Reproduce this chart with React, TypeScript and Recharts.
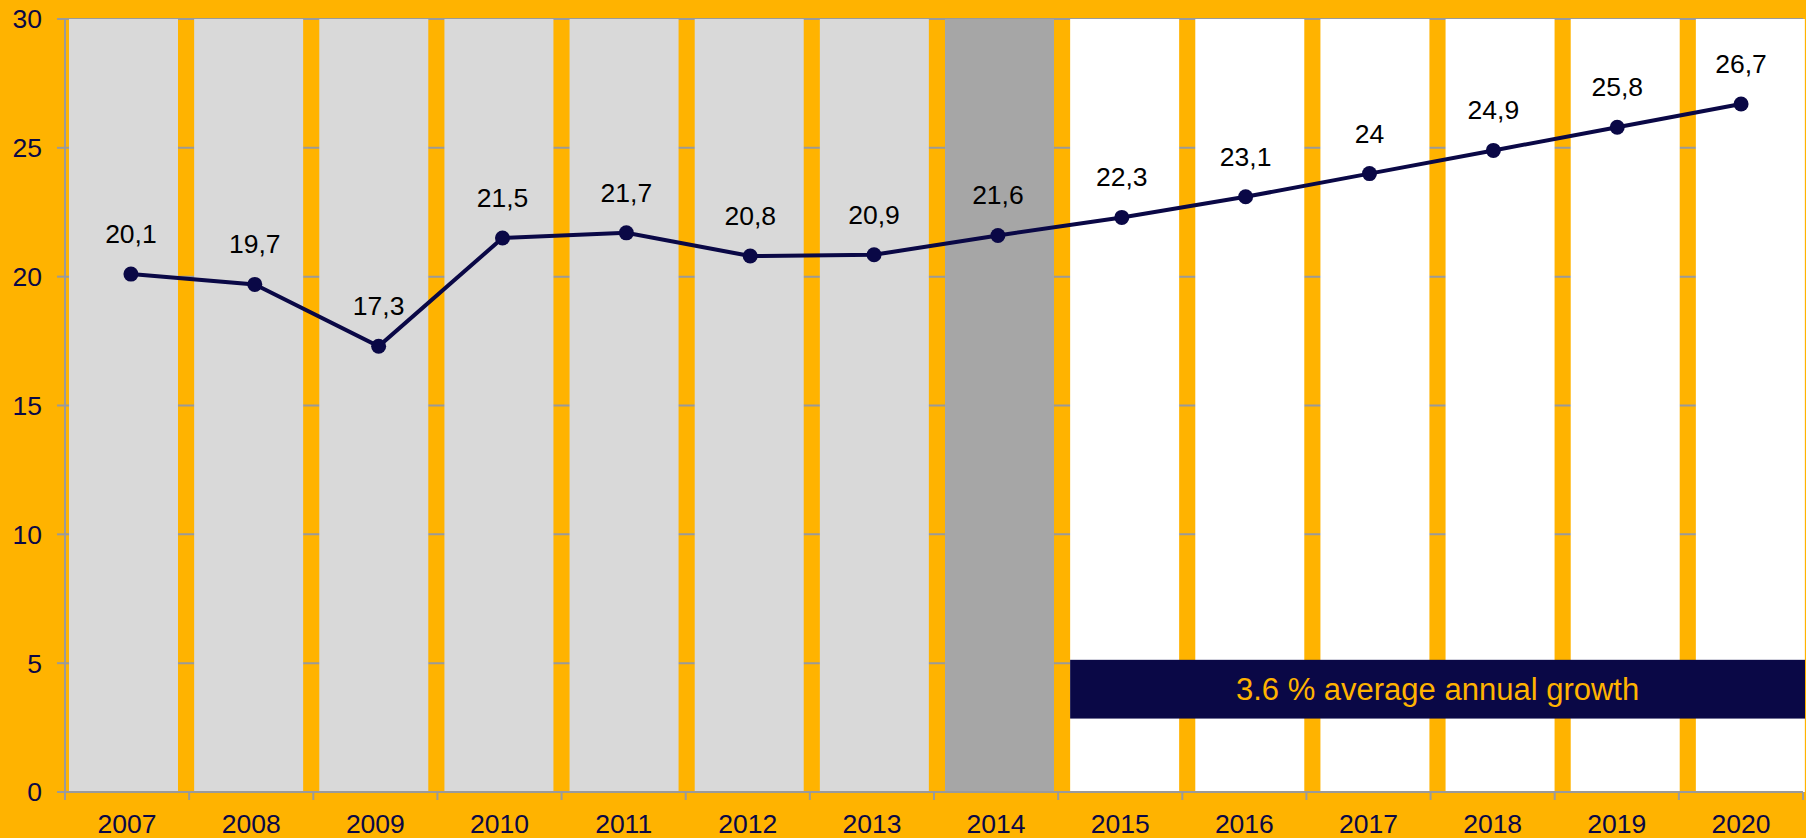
import {
  ComposedChart,
  Bar,
  Line,
  Cell,
  XAxis,
  YAxis,
  CartesianGrid,
  ReferenceArea,
  LabelList,
} from 'recharts';

const years = ['2007', '2008', '2009', '2010', '2011', '2012', '2013', '2014', '2015', '2016', '2017', '2018', '2019', '2020'];
const values = [20.1, 19.7, 17.3, 21.5, 21.7, 20.8, 20.85, 21.6, 22.3, 23.1, 24, 24.9, 25.8, 26.7];
const valueLabels = ['20,1', '19,7', '17,3', '21,5', '21,7', '20,8', '20,9', '21,6', '22,3', '23,1', '24', '24,9', '25,8', '26,7'];
const bandColors = ['#D9D9D9', '#D9D9D9', '#D9D9D9', '#D9D9D9', '#D9D9D9', '#D9D9D9', '#D9D9D9', '#A6A6A6', '#FFFFFF', '#FFFFFF', '#FFFFFF', '#FFFFFF', '#FFFFFF', '#FFFFFF'];
const yTicks = [0, 5, 10, 15, 20, 25, 30];
const growthNote = '3.6 % average annual growth';

const ORANGE = '#FFB300';
const NAVY = '#0A0846';
const GRID = '#9A9A9A';
const Y_MAX = 30;

const data = years.map((year, i) => ({
  year,
  value: values[i],
  label: valueLabels[i],
  band: Y_MAX,
}));

const W = 1806;
const H = 838;
const margin = { top: 19, right: 3, bottom: 0, left: 0 };
const Y_AXIS_W = 65;
const PLOT_W = W - margin.left - margin.right - Y_AXIS_W;
const TICK_SIZE = 8;
const TICK_MARGIN = 14;

function YearTick(props: any) {
  const { x, y, payload, index } = props;
  const bw = PLOT_W / years.length;
  const axisY = y - TICK_SIZE - TICK_MARGIN;
  return (
    <g>
      <line x1={x - bw / 2} x2={x - bw / 2} y1={axisY} y2={axisY + TICK_SIZE} stroke={GRID} strokeWidth={2} />
      {index === years.length - 1 && (
        <line x1={x + bw / 2} x2={x + bw / 2} y1={axisY} y2={axisY + TICK_SIZE} stroke={GRID} strokeWidth={2} />
      )}
      <text x={x} y={y} dy="0.71em" textAnchor="middle" fill={NAVY} fontSize={26.5}>
        {payload.value}
      </text>
    </g>
  );
}

// navy note box sits on the bar bodies, not on the orange gaps
function NoteBox(props: any) {
  const { x, y, width, height } = props;
  const inset = 8;
  return <rect x={x + inset} y={y} width={width - inset * 2} height={height} fill={NAVY} />;
}

export default function App() {
  return (
    <div style={{ position: 'absolute', left: 0, top: 0, width: W, height: H, background: ORANGE, fontFamily: '"Liberation Sans", Arial, sans-serif' }}>
      <ComposedChart width={W} height={H} data={data} margin={margin}>
        <XAxis
          dataKey="year"
          height={46}
          axisLine={{ stroke: GRID, strokeWidth: 2 }}
          tickLine={false}
          tickSize={TICK_SIZE}
          tickMargin={TICK_MARGIN}
          tick={<YearTick />}
          interval={0}
        />
        <XAxis xAxisId="band" dataKey="year" hide padding={{ left: -4, right: -10 }} />
        <XAxis xAxisId="line" dataKey="year" hide padding={{ left: 4, right: 0 }} />
        <YAxis
          width={Y_AXIS_W}
          domain={[0, Y_MAX]}
          ticks={yTicks}
          axisLine={{ stroke: GRID, strokeWidth: 2 }}
          tickLine={{ stroke: GRID, strokeWidth: 2 }}
          tickSize={TICK_SIZE}
          tickMargin={15}
          tick={{ fill: NAVY, fontSize: 26.5 }}
        />
        <Bar xAxisId="band" dataKey="band" barSize={109} isAnimationActive={false}>
          {data.map((d, i) => (
            <Cell key={`band-${d.year}`} fill={bandColors[i]} />
          ))}
        </Bar>
        <CartesianGrid vertical={false} stroke={GRID} strokeWidth={2} />
        <ReferenceArea
          xAxisId="band"
          x1="2015"
          x2="2020"
          y1={2.85}
          y2={5.13}
          zIndex={1500}
          shape={<NoteBox />}
          label={{ value: growthNote, position: 'center', fill: ORANGE, fontSize: 31 }}
        />
        <Line
          xAxisId="line"
          dataKey="value"
          stroke={NAVY}
          strokeWidth={4}
          dot={{ r: 7.5, fill: NAVY, stroke: NAVY, strokeWidth: 0 }}
          isAnimationActive={false}
        >
          <LabelList dataKey="label" position="top" offset={31} fill="#000" fontSize={26.5} />
        </Line>
      </ComposedChart>
    </div>
  );
}
